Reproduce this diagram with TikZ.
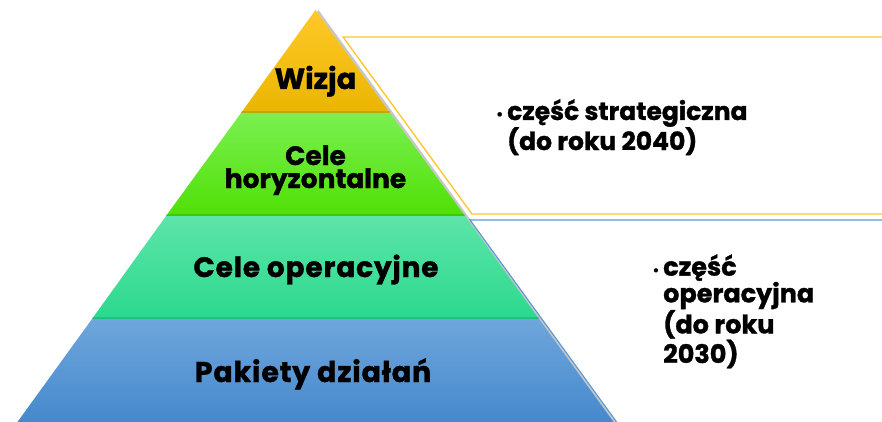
\documentclass[tikz,border=0pt]{standalone}
\usepackage{fontspec}
\setmainfont{Poppins}[BoldFont={Poppins Bold}, BoldFeatures={FakeBold=1.2}]
\definecolor{yelT}{RGB}{255,200,42}
\definecolor{yelB}{RGB}{234,182,0}
\definecolor{grnT}{RGB}{122,240,80}
\definecolor{grnB}{RGB}{80,224,6}
\definecolor{tealT}{RGB}{92,229,168}
\definecolor{tealB}{RGB}{44,216,142}
\definecolor{bluT}{RGB}{111,166,220}
\definecolor{bluB}{RGB}{68,136,204}
\definecolor{yline}{RGB}{255,196,40}
\definecolor{bline}{RGB}{91,155,213}
\begin{document}
\begin{tikzpicture}[x=1pt,y=-1pt,
  lbl/.style={font=\bfseries, inner sep=0pt, text=black, anchor=base, align=center},
  side/.style={font=\bfseries, inner sep=0pt, text=black, anchor=base west, align=left},
  yb/.style={draw=yline, line width=1.3pt},
  bb/.style={draw=bline, line width=1.1pt},
  sep/.style={draw=black, opacity=0.12, line width=2pt}]
\useasboundingbox (0,0) rectangle (882,422);
\clip (0,0) rectangle (882,422);
% pyramid corners
\coordinate (A) at (315.5,10);
\coordinate (L1) at (241,113);   \coordinate (R1) at (390,113);
\coordinate (L2) at (166,216);   \coordinate (R2) at (465,216);
\coordinate (L3) at (92,319);    \coordinate (R3) at (539,319);
\coordinate (L4) at (16,424);    \coordinate (R4) at (615,424);
% shadow
\fill[black!22] (318.5,10) -- (618.5,424) -- (19,424) -- cycle;
% bands
\shade[top color=yelT, bottom color=yelB] (A) -- (R1) -- (L1) -- cycle;
\shade[top color=grnT, bottom color=grnB] (L1) -- (R1) -- (R2) -- (L2) -- cycle;
\shade[top color=tealT, bottom color=tealB] (L2) -- (R2) -- (R3) -- (L3) -- cycle;
\shade[top color=bluT, bottom color=bluB] (L3) -- (R3) -- (R4) -- (L4) -- cycle;
\draw[sep] ([yshift=1pt]L1) -- ([yshift=1pt]R1);
\draw[sep] ([yshift=1pt]L2) -- ([yshift=1pt]R2);
\draw[sep] ([yshift=1pt]L3) -- ([yshift=1pt]R3);
% outline boxes
\draw[yb] (890,37) -- (343,37) -- (472,214) -- (890,214);
\draw[bb] (890,220) -- (470,220) -- (618,424);
% labels
\node[lbl, font=\bfseries\fontsize{29}{29}\selectfont] (wiz) at (315.5,89) {Wizja};
\node[lbl, font=\bfseries\fontsize{26.5}{23}\selectfont] (hor) at (315.5,188) {Cele\\horyzontalne};
\node[lbl, font=\bfseries\fontsize{28}{28}\selectfont\addfontfeature{LetterSpace=3}] (op) at (316,277) {Cele operacyjne};
\node[lbl, font=\bfseries\fontsize{28.5}{28}\selectfont\addfontfeature{LetterSpace=3}] (pak) at (313,382) {Pakiety działań};
\node[side, font=\bfseries\fontsize{25}{30}\selectfont] (str) at (507,150)
  {\llap{\fontsize{14}{14}\selectfont\raisebox{1pt}{\textbullet}\hspace{4pt}}część strategiczna\\(do roku 2040)};
\node[side, font=\bfseries\fontsize{25.5}{25}\selectfont] (opr) at (663,363)
  {\llap{\fontsize{13}{13}\selectfont\raisebox{1pt}{\textbullet}\hspace{4pt}}część\\operacyjna\\(do roku\\2030)};
\end{tikzpicture}
\end{document}
